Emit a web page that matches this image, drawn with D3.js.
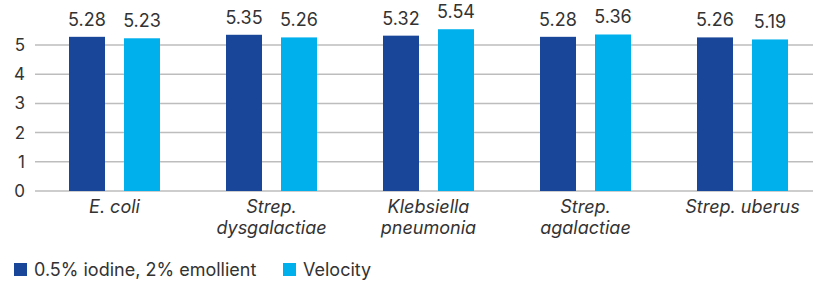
<!DOCTYPE html>
<html><head><meta charset="utf-8">
<script src="https://cdn.jsdelivr.net/npm/d3@7"></script>
<style>body{margin:0;background:#fff}svg{display:block;font-family:Inter,"Noto Sans",sans-serif}</style>
</head><body>
<svg id="c" width="813" height="281"></svg>
<script>
const categories = [["E. coli"], ["Strep.", "dysgalactiae"], ["Klebsiella", "pneumonia"], ["Strep.", "agalactiae"], ["Strep. uberus"]];
const seriesNames = ["0.5% iodine, 2% emollient", "Velocity"];
const iodine = [5.28, 5.35, 5.32, 5.28, 5.26];
const velocity = [5.23, 5.26, 5.54, 5.36, 5.19];
const yTicks = [0, 1, 2, 3, 4, 5];
const colors = ["#1a4699", "#00b0ec"];

const svg = d3.select("#c");
const x = d3.scaleBand().domain(d3.range(categories.length)).range([36, 821]).paddingInner(0).paddingOuter(0);
const y = d3.scaleLinear().domain([0, 5]).range([191, 45]);
const sub = d3.scaleBand().domain([0, 1]).range([x.bandwidth()/2 - 45.5, x.bandwidth()/2 + 45.5]).paddingInner(19/55).paddingOuter(0);

// gridlines
svg.append("g").selectAll("line").data(yTicks).join("line")
  .attr("x1", 35).attr("x2", 813)
  .attr("y1", d => y(d)).attr("y2", d => y(d))
  .attr("stroke", "#bdbdbd").attr("stroke-width", 1.5);

// y axis labels
const ya = svg.append("g").attr("transform", "translate(25,0)")
  .call(d3.axisLeft(y).tickValues(yTicks).tickSize(0).tickPadding(0).tickFormat(d3.format("d")));
ya.select(".domain").remove();
ya.selectAll("text").attr("font-size", 17).attr("fill", "#333").attr("font-family", "Inter,sans-serif");

const series = [iodine, velocity];
series.forEach((vals, s) => {
  const g = svg.append("g");
  g.selectAll("rect").data(vals).join("rect")
    .attr("x", (d, i) => x(i) + sub(s))
    .attr("width", sub.bandwidth())
    .attr("y", d => y(d))
    .attr("height", d => y(0) - y(d))
    .attr("fill", colors[s]);
  g.selectAll("text").data(vals).join("text")
    .attr("x", (d, i) => x(i) + sub(s) + sub.bandwidth()/2)
    .attr("y", d => y(d) - 11)
    .attr("text-anchor", "middle")
    .attr("font-size", 18).attr("fill", "#333")
    .text(d => d3.format(".2f")(d));
});

// category labels
const cg = svg.append("g").selectAll("text").data(categories).join("text")
  .attr("x", (d, i) => x(i) + x.bandwidth()/2)
  .attr("y", 213)
  .attr("text-anchor", "middle")
  .attr("font-size", 18).attr("font-style", "italic").attr("fill", "#333");
cg.selectAll("tspan").data(d => d).join("tspan")
  .attr("x", function() { return d3.select(this.parentNode).attr("x"); })
  .attr("dy", (d, i) => i === 0 ? 0 : 21)
  .text(d => d);

// legend
const legX = [14, 283];
const lg = svg.append("g").selectAll("g").data(seriesNames).join("g")
  .attr("transform", (d, i) => `translate(${legX[i]},263)`);
lg.append("rect").attr("width", 13).attr("height", 13).attr("fill", (d, i) => colors[i]);
lg.append("text").attr("x", 20).attr("y", 13).attr("font-size", 18).attr("fill", "#333").text(d => d);
</script>
</body></html>
